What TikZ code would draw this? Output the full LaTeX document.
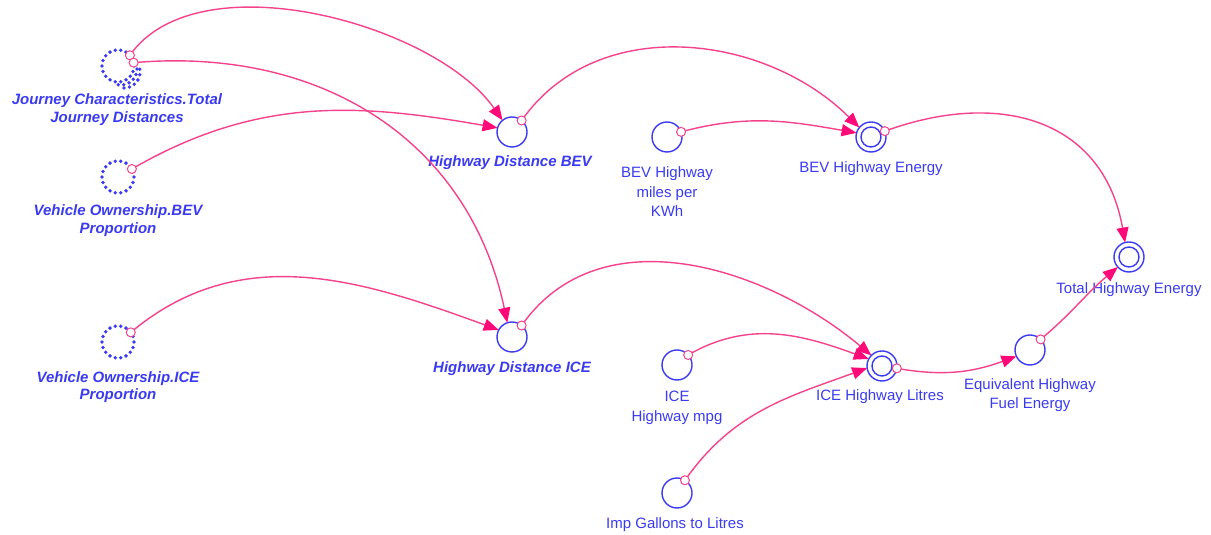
\documentclass[tikz,border=0pt]{standalone}
\usepackage{fontspec}
\setmainfont{Liberation Sans}
\usetikzlibrary{arrows.meta}
\definecolor{vblue}{HTML}{3A3AF2}
\definecolor{lpink}{HTML}{F4428C}
\definecolor{apink}{HTML}{FF0A78}
\tikzset{
 aux/.style={circle,draw=vblue,line width=1.4pt,minimum size=30pt,inner sep=0pt,outer sep=0pt},
 dbl/.style={aux,path picture={\draw[vblue,line width=1.4pt] (path picture bounding box.center) circle (10pt);}},
 ghost/.style={circle,minimum size=32pt,inner sep=0pt,outer sep=0pt},
 gdot/.style={fill=vblue},
 lbl/.style={text=vblue,align=center,font=\fontsize{15}{19.5}\selectfont},
 blbl/.style={text=vblue,align=center,font=\fontsize{15}{17.5}\selectfont\bfseries\itshape},
 link/.style={draw=lpink,line width=1.4pt,-{Triangle[length=15pt,width=12pt,color=apink]}},
 src/.style={circle,draw=lpink,fill=white,line width=1pt,minimum size=9pt,inner sep=0pt},
}
\begin{document}
\begin{tikzpicture}[x=1pt,y=1pt]
\useasboundingbox (0,0) rectangle (1211,535);
% ghosts
\node[ghost] (jct) at (118,469) {};
\node[ghost] (vob) at (118,358) {};
\node[ghost] (voi) at (118,193) {};
\foreach \n in {jct,vob,voi}{
  \foreach \a in {0,20,...,340} \fill[gdot] (\n.center) ++(\a:16) circle (1.9);
}
\foreach \a in {-100,-80,...,20} \fill[gdot] ([shift={(3,-3)}]jct.center) ++(\a:16) circle (1.9);
\foreach \a in {-90,-70,...,10} \fill[gdot] ([shift={(6,-6)}]jct.center) ++(\a:16) circle (1.9);
% auxiliaries
\node[aux] (hdb) at (512,403) {};
\node[aux] (hdi) at (512,198) {};
\node[aux] (bevm) at (667,398) {};
\node[dbl] (bevE) at (871,398) {};
\node[dbl] (the) at (1129,278) {};
\node[aux] (icem) at (677,170) {};
\node[dbl] (icel) at (882,169) {};
\node[aux] (ehfe) at (1030,185) {};
\node[aux] (igl) at (677,42) {};
% labels
\node[blbl] (ljct) at (117,425.5) {Journey Characteristics.Total\\Journey Distances};
\node[blbl] (lvob) at (118,314.5) {Vehicle Ownership.BEV\\Proportion};
\node[blbl] (lvoi) at (118,148) {Vehicle Ownership.ICE\\Proportion};
\node[blbl] (lhdb) at (510,372) {Highway Distance BEV};
\node[blbl] (lhdi) at (512,166) {Highway Distance ICE};
\node[lbl] (lbevm) at (667,343) {BEV Highway\\miles per\\KWh};
\node[lbl] (lbevE) at (871,366) {BEV Highway Energy};
\node[lbl] (lthe) at (1129,245) {Total Highway Energy};
\node[lbl] (licem) at (677,127) {ICE\\Highway mpg};
\node[lbl] (licel) at (880,138) {ICE Highway Litres};
\node[lbl] (lehfe) at (1030,140) {Equivalent Highway\\Fuel Energy};
\node[lbl] (ligl) at (675,10) {Imp Gallons to Litres};
% connectors
\draw[link] (jct.42) node[src]{} to[out=55,in=125,looseness=0.8] (hdb.129);
\draw[link] (jct.12) node[src]{} to[out=5,in=102,looseness=1.05] (hdi.108);
\draw[link] (vob.30) node[src]{} to[out=30,in=170] (hdb.164);
\draw[link] (voi.37) node[src]{} to[out=40,in=160] (hdi.152);
\draw[link] (hdb.50) node[src]{} to[out=55,in=135] (bevE.141);
\draw[link] (bevm.20) node[src]{} to[out=15,in=170] (bevE.164);
\draw[link] (bevE.23) node[src]{} to[out=20,in=100,looseness=1.2] (the.105);
\draw[link] (hdi.50) node[src]{} to[out=55,in=140] (icel.135);
\draw[link] (icem.42) node[src]{} to[out=30,in=160] (icel.152);
\draw[link] (igl.58) node[src]{} to[out=55,in=200] (icel.188);
\draw[link] (icel.-9) node[src]{} to[out=-10,in=200] (ehfe.205);
\draw[link] (ehfe.45) node[src]{} to[out=40,in=220] (the.222);
\end{tikzpicture}
\end{document}
